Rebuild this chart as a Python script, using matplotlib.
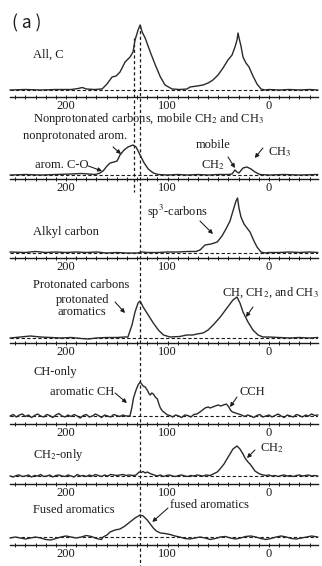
import matplotlib
matplotlib.use('Agg')
import matplotlib.pyplot as plt

plt.rcParams['font.family'] = ['Liberation Serif', 'DejaVu Serif']
plt.rcParams['mathtext.fontset'] = 'stix'

# chemical shift axis (ppm) and tick labels
tick_pos = list(range(-40, 251, 10))
tick_lab = {200: '200', 100: '100', 0: '0'}

# --- spectra: (ppm, intensity) ---
allc_ppm = [255, 240, 225, 210, 195, 188, 184, 180, 172, 165, 164.5, 159.6, 154.6, 150.7, 146.8, 141.8,
            136.9, 134, 132, 129, 127, 125, 122, 117, 112, 107, 102.4, 95.5, 87.7, 80.8, 77.8, 70.9, 65,
            60, 55.2, 50.2, 45.3, 40.4, 36.4, 33.5, 31.5, 30.5, 29.5, 27.6, 25.6, 22.7, 19.7, 15.8, 11.8,
            7.9, 4, 0, -10, -20, -30, -40, -48]
allc_int = [0, 0.5, 0, 0.5, 0.5, 1.5, 2.5, 1, 0.5, 1, 1, 6, 13, 14, 18, 28,
            33, 38, 50, 60, 65, 58, 52, 38, 25, 13, 5, 1, 0.5, 1, 3, 4, 5,
            7, 10, 15, 22, 30, 35, 43, 50, 57, 52, 44, 33, 27, 23, 14, 6,
            1, 0, 0.5, 0, 0.5, 0, 0.5, 0]

nonprot_ppm = [255, 240, 225, 210, 195, 185, 178, 172, 169.5, 166.5, 163.5, 159.6, 156.6, 152.7, 149.7,
               146.8, 142.8, 138.9, 134, 131, 127, 123, 119, 114, 109, 100, 90, 80, 70, 60, 50, 40,
               36.4, 33.5, 31.5, 29.6, 25.6, 21.7, 17.7, 13.8, 8.9, 0, -15, -30, -48]
nonprot_int = [0, 0.5, 0, 0.5, 1, 1.5, 1, 0.5, 1, 2, 4, 9, 12, 13, 14,
               20, 25, 28, 30, 28, 20, 12, 6, 2, 0.5, 0, 0.5, 0, 0.5, 0, 0.5, 0.5,
               1, 5, 3, 2, 7, 8, 6, 3, 0.5, 0, 0.5, 0, 0.5]

alkyl_ppm = [255, 240, 230, 220, 210, 200, 190, 180, 170, 160, 150, 140, 130, 125, 120, 110, 100, 90,
             80, 72, 68, 63, 57, 51, 46.3, 42.4, 38.4, 35.5, 32.5, 31, 29.6, 27.6, 24.6, 21.7, 18.7,
             14.8, 11.8, 7.9, 3.9, 0, -10, -20, -30, -40, -48]
alkyl_int = [1, 0.5, 1.5, 0.5, 1, 0.5, 1, 0.5, 1, 0, 0.5, 0, 0, 1, 0.5, 0.5, 1, 1,
             1.5, 1.5, 3, 8, 9, 11, 17, 24, 32, 42, 52, 55, 45, 36, 29, 25, 21,
             12, 6, 1, 0, 0.5, 0.5, 1, 0.5, 1, 0.5]

prot_ppm = [255, 245, 235, 225, 215, 205, 195, 185, 178, 170, 160, 150, 142, 139, 135, 132, 129, 127,
            124, 119, 114, 109, 104, 97.5, 88, 81, 75, 71, 65, 60, 55, 48, 41.4, 35.5, 31.5, 28.6,
            25.6, 20.7, 15.8, 10.8, 5.9, 0, -10, -20, -30, -40, -48]
prot_int = [0, 1, 2, 1, 0.5, 0, 0.5, -0.5, -1, 0, 0.5, 0.5, 1, 1, 13, 26, 35, 37,
            31, 23, 15, 8, 3, 1, 1.5, 3, 3, 4, 5, 8, 13, 21, 30, 38, 41, 35,
            26, 16, 8, 3, 1, 1, 0.5, 0, 0.5, 0, 0.5]

ch_ppm = [255, 252, 249, 246, 243, 240, 237, 234, 231, 228, 225, 222, 219, 216, 213, 210, 207, 204,
          201, 198, 195, 192, 189, 186, 183, 180, 177, 174, 171, 168, 165, 162, 159, 156, 153, 150,
          147, 144, 141, 137, 135, 133.5, 131, 129, 127, 125.5, 124, 122, 120, 118, 117, 115.5, 114,
          112, 110, 108.5, 107, 105, 102.5, 100, 97.5, 95, 92, 89, 86, 83, 80, 77, 74, 71, 68, 65.5,
          63, 60, 58, 55.5, 53, 50, 47.5, 45, 42, 39.5, 38, 36, 33, 30, 27, 24, 21, 18, 15, 12, 9,
          6, 3, 0, -3, -6, -9, -12, -15, -18, -21, -24, -27, -30, -33, -36, -39, -42, -45, -48]
ch_int = [0, 1.5, -1, 1, 2, -0.5, 1, -1.5, 0.5, 2, 0, -1, 1.5, 0.5, -1.5, 1, 2.5, 0,
          -1, 1, -0.5, 1.5, 0, -2, 0.5, 1.5, -1, 0, 2, 0.5, -1.5, 1, 0, -1, 1.5, 0.5,
          -0.5, 1, 0, 0, 9, 18, 26, 31, 34, 32, 30, 29, 26, 22, 21, 23, 22,
          19, 17, 12, 8, 5, 3, 1, 0.5, -1, 1, 0, -1.5, 1, 0.5, -1, 1.5, 2, 4, 6,
          8, 9, 8, 9, 10, 11, 10, 11, 12, 9, 6, 4, 3, 2, 1, -0.5, 1, 0, -1.5, 0.5, 1.5,
          -1, 0, 1, -1, 0.5, 2, 0, -1.5, 1, 0, -1, 1.5, 0.5, -1, 1, 0, 2, 0.5, 1]

ch2_ppm = [255, 252, 249, 246, 243, 240, 237, 234, 231, 228, 225, 222, 219, 216, 213, 210, 207, 204,
           201, 198, 195, 192, 189, 186, 183, 180, 177, 174, 171, 168, 165, 162, 159, 156, 153, 150,
           147, 144, 141, 138, 134, 131, 128, 126, 124, 122, 120, 118, 116, 113, 110, 107, 104, 101,
           98, 95, 92, 89, 86, 83, 80, 77, 74, 71, 68, 65, 62, 58, 55, 51, 48.3, 44.3, 41.4, 38.4,
           35.5, 31.5, 28.6, 25.6, 23.6, 20.7, 18.7, 15.8, 13.8, 10.8, 8.9, 5.9, 3, 0, -3, -6, -9,
           -12, -15, -18, -21, -24, -27, -30, -33, -36, -39, -42, -45, -48]
ch2_int = [0, -1, 0.5, 1, -0.5, 0, 1, -1, 0.5, 0, 1.5, -0.5, 0, 1, -1, 0.5, 1, 0,
           -0.5, 1, 0, -1, 1.5, 0, 0.5, -0.5, 1, 0, 1.5, 0.5, -0.5, 1, 0, 1.5, 1, 0.5,
           1, 1.5, 0.5, 1, 0.5, 1, 4, 3.5, 4.5, 3, 4, 3, 2, 1, 0, 1, -0.5, 0.5,
           1, 0, -0.5, 0.5, 1, 0, -0.5, 0.5, 0, 1, 0.5, 0, 1, 0.5, 2, 4, 7, 12, 17, 22,
           27, 30, 27, 22, 18, 14, 12, 8, 5, 3, 2, 1, 0.5, 1, 0, 0.5, -0.5,
           0.5, 1, 0, 0.5, -0.5, 0.5, 1, 0, 0.5, 1, 0, 0.5, 0]

fused_ppm = [255, 250, 245, 240, 235, 230, 225, 220, 215, 210, 205, 200, 195, 190, 185, 180, 175, 170,
             165, 163.5, 159.6, 156.6, 151.7, 146.8, 141.9, 137, 132, 127, 124, 120, 117, 114, 111,
             107, 102.5, 97.5, 92.6, 88, 83, 78, 73, 68, 63, 58, 53, 48, 43, 38, 33, 28, 23, 18, 13,
             8, 3, -2, -7, -12, -17, -22, -27, -32, -37, -42, -48]
fused_int = [-1, 0, -1, -2, -1, 0, -1, -2.5, -3, -1.5, 0, 1, 0, -1, 0, 1.5, 0.5, -1.5,
             -2.5, 0, 2, 5, 7, 8, 11, 15, 19, 22, 21, 17, 13, 9, 6,
             4, 3.5, 2.5, 1, 0, -1.5, -2, -1, 0, -1, -2.5, -1.5, 0, 0.5, -1, -2, -1, 0.5, 1, 0,
             -1.5, -2.5, -1.5, 0, 1, 0, -1.5, -2, -1, 0, 1, 0]

W, H = 322, 566
XL = (255.2, -48.3)
fig = plt.figure(figsize=(W / 100, H / 100), dpi=100)
ink = '#1a1a1a'

# full-height reference lines
ov = fig.add_axes([10 / W, 0, 308 / W, 1])
ov.set_xlim(*XL)
ov.set_ylim(H, 0)
ov.axis('off')
ov.vlines(127, 25, H, color=ink, lw=0.9, linestyles=(0, (2.5, 2)))
ov.vlines(133, 38, 192, color=ink, lw=0.9, linestyles=(0, (2.5, 2)))


def panel(axis_y, base_y, ppm, inten, top=80):
    off = axis_y - base_y
    ax = fig.add_axes([10 / W, 1 - axis_y / H, 308 / W, top / H])
    ax.set_xlim(*XL)
    ax.set_ylim(-off, top - off)
    ax.patch.set_alpha(0)
    for s in ['top', 'left', 'right']:
        ax.spines[s].set_visible(False)
    ax.spines['bottom'].set_color(ink)
    ax.spines['bottom'].set_linewidth(1.0)
    ax.set_yticks([])
    ax.set_xticks(tick_pos)
    ax.set_xticklabels([tick_lab.get(t, '') for t in tick_pos], fontsize=9, color=ink)
    ax.tick_params(axis='x', direction='inout', length=3.5, width=0.7, color=ink, pad=0.5)
    ax.axhline(0, color=ink, lw=0.8, ls=(0, (3, 2)))
    ax.plot(ppm, inten, color='#2a2a2a', lw=1.0, clip_on=False)
    return ax


def arrow(ax, tail, head):
    ax.annotate('', xy=head, xytext=tail,
                arrowprops=dict(arrowstyle='-|>', color=ink, lw=0.75, mutation_scale=6,
                                shrinkA=0, shrinkB=0), annotation_clip=False)


fs = 9
tkw = dict(fontsize=fs, color=ink, va='center', clip_on=False)

ax1 = panel(97, 90, allc_ppm, allc_int)
ax1.text(232.5, 35, 'All, C', **tkw)

ax2 = panel(179, 175, nonprot_ppm, nonprot_int)
ax2.text(232.5, 56, 'Nonprotonated carbons, mobile CH$_2$ and CH$_3$', **tkw)
ax2.text(242, 39, 'nonprotonated arom.', **tkw)
arrow(ax2, (153.7, 28), (145.8, 21))
ax2.text(230.5, 10, 'arom. C-O', **tkw)
arrow(ax2, (178, 9), (164.5, 4))
ax2.text(55, 30, 'mobile', ha='center', **tkw)
ax2.text(55, 10, 'CH$_2$', ha='center', **tkw)
arrow(ax2, (40.4, 18), (33.5, 7))
ax2.text(1, 23, 'CH$_3$', **tkw)
arrow(ax2, (6, 27), (14, 17))

ax3 = panel(258, 253, alkyl_ppm, alkyl_int)
ax3.text(120, 41, 'sp$^3$-carbons', **tkw)
arrow(ax3, (68, 32), (55.2, 19))
ax3.text(232.5, 21, 'Alkyl carbon', **tkw)

ax4 = panel(343, 338, prot_ppm, prot_int)
ax4.text(232.5, 53, 'Protonated carbons', **tkw)
ax4.text(184, 32, 'protonated\naromatics', ha='center', linespacing=1.1, **tkw)
arrow(ax4, (151.7, 36), (141.9, 25))
ax4.text(46.3, 45, 'CH, CH$_2$, and CH$_3$', **tkw)
arrow(ax4, (15.8, 31), (22.7, 21))

ax5 = panel(424, 416, ch_ppm, ch_int)
ax5.text(232.5, 44, 'CH-only', **tkw)
ax5.text(215.8, 24, 'aromatic CH', **tkw)
arrow(ax5, (151.7, 23), (140, 13))
ax5.text(28.6, 24, 'CCH', **tkw)
arrow(ax5, (31.5, 19), (38.4, 9))

ax6 = panel(484, 476, ch2_ppm, ch2_int)
ax6.text(232.5, 21, 'CH$_2$-only', **tkw)
ax6.text(8.9, 28, 'CH$_2$', **tkw)
arrow(ax6, (13.8, 26), (21.7, 18))

ax7 = panel(545, 537, fused_ppm, fused_int)
ax7.text(232.5, 27, 'Fused aromatics', **tkw)
ax7.text(97.5, 32, 'fused aromatics', **tkw)
arrow(ax7, (99.5, 29), (115, 15))

fig.text(12 / W, 1 - 23 / H, '( a )', fontsize=12.5, family=['Noto Sans CJK SC', 'DejaVu Sans'],
         color=ink, va='center')

fig.savefig('out.png', dpi=100)
